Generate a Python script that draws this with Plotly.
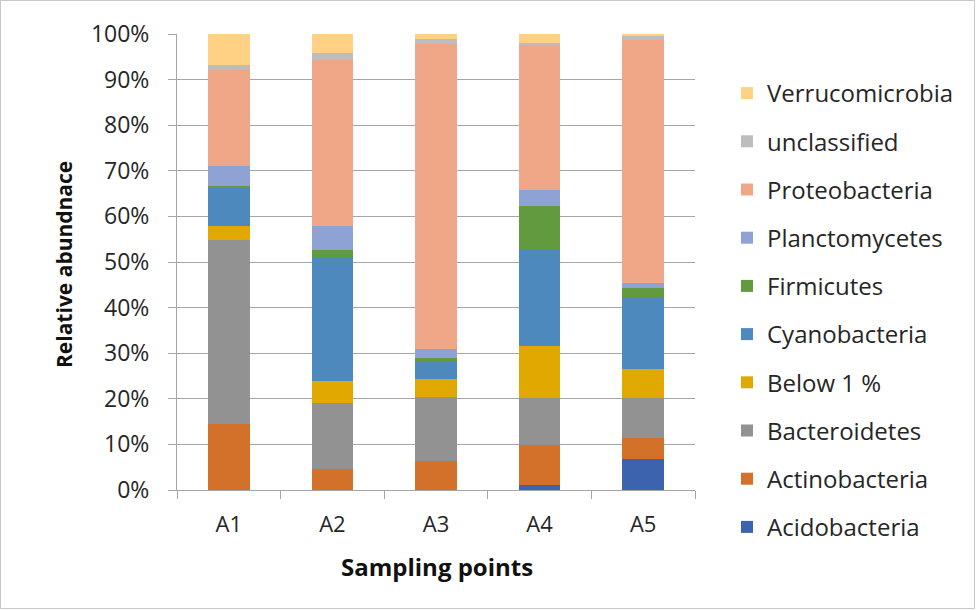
import plotly.graph_objects as go

samples = ["A1", "A2", "A3", "A4", "A5"]

# Relative abundance (%) per phylum, bottom of the stack first
Acidobacteria   = [0.0, 0.0, 0.0, 1.2, 6.8]
Actinobacteria  = [14.4, 4.5, 6.4, 8.6, 4.7]
Bacteroidetes   = [40.4, 14.6, 14.0, 10.4, 8.7]
Below1          = [3.1, 4.7, 4.0, 11.4, 6.4]
Cyanobacteria   = [8.4, 27.4, 3.6, 21.2, 15.4]
Firmicutes      = [0.3, 1.4, 0.9, 9.5, 2.2]
Planctomycetes  = [4.4, 5.2, 2.0, 3.4, 1.2]
Proteobacteria  = [21.3, 36.4, 66.8, 31.9, 53.3]
unclassified    = [0.8, 1.7, 1.1, 0.5, 0.9]
Verrucomicrobia = [7.0, 4.1, 1.3, 1.9, 0.4]

series = [
    ("Acidobacteria", Acidobacteria, "#3C63AD"),
    ("Actinobacteria", Actinobacteria, "#D3702A"),
    ("Bacteroidetes", Bacteroidetes, "#929292"),
    ("Below 1 %", Below1, "#E0A800"),
    ("Cyanobacteria", Cyanobacteria, "#4E89BE"),
    ("Firmicutes", Firmicutes, "#629A40"),
    ("Planctomycetes", Planctomycetes, "#8FA2D4"),
    ("Proteobacteria", Proteobacteria, "#F0A788"),
    ("unclassified", unclassified, "#BDBDBD"),
    ("Verrucomicrobia", Verrucomicrobia, "#FED184"),
]

FONT = "Open Sans"
TXT = "#262626"
W, H = 976, 610
L, R, T, B = 177, 281, 34, 120
pw, ph = W - L - R, H - T - B

fig = go.Figure()
n = len(series)
for i, (name, vals, col) in enumerate(series):
    fig.add_trace(go.Bar(
        x=samples, y=[v / 100 for v in vals], name=name,
        marker=dict(color=col, line=dict(width=0)),
        legendgroup=name, legendrank=n - i,
    ))

def px_x(p):
    return (p - L) / pw

def px_y(p):
    return (H - B - p) / ph

fig.update_layout(
    width=W, height=H,
    margin=dict(l=L, r=R, t=T, b=B),
    barmode="stack", bargap=0.6,
    plot_bgcolor="white", paper_bgcolor="white",
    font=dict(family=FONT, size=22, color=TXT),
    showlegend=True,
    legend=dict(
        x=px_x(727), y=px_y(71), xanchor="left", yanchor="top",
        traceorder="grouped", tracegroupgap=14, maxheight=700,
        font=dict(family=FONT, size=24, color=TXT),
        itemwidth=30, bgcolor="rgba(0,0,0,0)",
    ),
    annotations=[
        dict(text="<b>Relative abundnace</b>", x=px_x(64), y=px_y(265),
             xref="paper", yref="paper", xanchor="center", yanchor="middle",
             textangle=-90, showarrow=False,
             font=dict(family=FONT, size=21, color="#111111")),
        dict(text="<b>Sampling points</b>", x=px_x(437), y=px_y(566),
             xref="paper", yref="paper", xanchor="center", yanchor="middle",
             showarrow=False,
             font=dict(family=FONT, size=24, color="#111111")),
    ],
    shapes=[
        dict(type="rect", xref="paper", yref="paper",
             x0=px_x(0.5), x1=px_x(W - 1.5), y0=px_y(H - 1.5), y1=px_y(0.5),
             line=dict(color="#C8C8C8", width=1), fillcolor="rgba(0,0,0,0)"),
    ],
)

fig.update_yaxes(
    range=[0, 1], tickformat=".0%", dtick=0.1,
    showgrid=True, gridcolor="#A6A6A6", gridwidth=1,
    showline=True, linecolor="#A6A6A6", linewidth=1,
    ticks="outside", ticklen=8, tickcolor="#A6A6A6",
    ticklabelstandoff=14, zeroline=False,
    tickfont=dict(family=FONT, size=23, color=TXT),
)
fig.update_xaxes(
    showline=True, linecolor="#A6A6A6", linewidth=1,
    ticks="outside", ticklen=8, tickcolor="#A6A6A6", tickson="boundaries",
    ticklabelstandoff=15,
    tickfont=dict(family=FONT, size=22, color=TXT),
)

fig.write_html("out.html")
